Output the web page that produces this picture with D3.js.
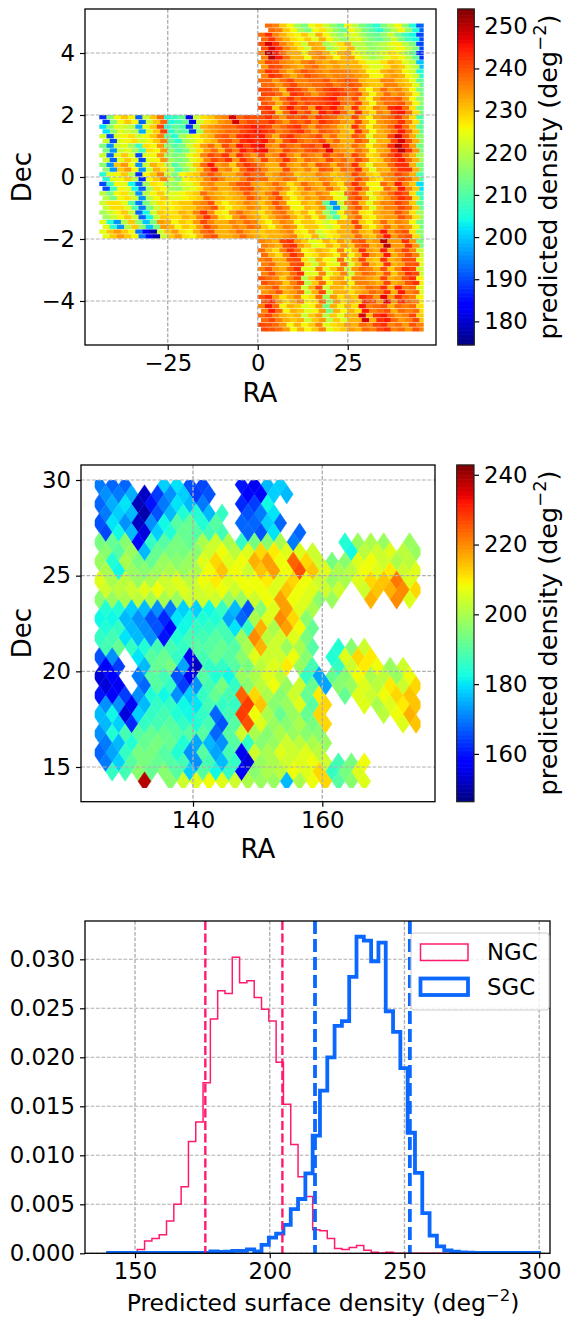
<!DOCTYPE html>
<html><head><meta charset="utf-8">
<script src="https://cdn.jsdelivr.net/npm/d3@7"></script>
<style>
html,body{margin:0;padding:0;background:#fff}
text{font-family:"DejaVu Sans",sans-serif;fill:#000}
</style></head><body><svg id="c" width="563" height="1318"></svg>
<script>
const _ = null;
// Panel 1: predicted density, SGC. RA columns 2 deg wide, Dec rows 0.3 deg, top to bottom.
const sgcUpper = [
[_,238,236,230,226,218,214,225,228,222,216,212,226,220,214,210,206,214,220,226,216,205,192],
[238,243,236,232,228,226,230,224,232,226,220,216,222,224,218,214,212,216,222,214,208,204,190],
[240,248,243,236,232,228,222,233,232,218,222,228,232,220,220,216,218,220,224,226,220,214,190],
[236,250,245,238,232,232,226,234,236,232,226,232,234,226,222,218,220,224,228,226,220,212,188],
[234,241,240,236,234,232,236,238,234,232,234,232,232,232,228,224,224,228,232,230,224,220,200],
[236,243,241,236,232,236,240,238,236,234,236,236,236,234,232,226,226,232,234,232,226,222,206],
[238,238,234,238,241,236,236,238,238,240,236,238,240,238,232,230,230,236,236,232,230,224,212],
[241,241,238,232,243,241,238,234,238,241,243,241,238,240,232,226,232,238,234,236,232,226,214],
[240,238,232,238,243,238,241,240,241,243,245,238,236,241,232,226,234,238,238,240,234,226,216],
[241,243,230,238,245,238,241,234,245,241,245,238,232,243,232,228,236,234,243,245,238,228,214]];
const sgcMiddle = [
[188,215,226,230,226,192,222,230,238,205,208,212,182,222,228,230,234,236,248,238,241,240,240,243,238,234,240,238,241,236,243,240,238,234,232,241,232,226,234,236,238,243,236,228,210],
[202,216,224,222,220,198,224,230,241,206,212,210,188,218,232,234,236,238,238,241,243,245,243,241,236,238,241,243,238,234,240,238,236,232,230,243,234,226,232,234,238,245,238,230,212],
[222,190,224,226,228,222,226,230,236,212,206,218,222,226,230,232,238,240,236,243,245,243,245,238,232,240,243,238,236,238,241,234,238,232,232,240,236,224,232,232,241,248,240,232,216],
[214,196,222,224,218,208,228,226,234,216,210,214,222,228,234,238,232,241,236,245,241,245,246,236,234,241,238,236,240,241,238,247,236,234,232,238,234,226,232,234,243,250,243,234,214],
[222,192,224,230,224,190,224,226,234,218,214,216,224,228,236,241,238,243,234,243,238,234,241,234,236,243,236,232,238,236,234,241,236,238,234,241,236,228,230,236,240,245,238,232,218],
[216,196,230,234,226,196,222,232,228,220,210,216,222,230,238,245,234,236,230,238,243,240,236,232,232,241,234,232,236,232,240,238,232,238,236,243,232,224,232,232,238,243,243,232,214],
[206,224,226,230,220,188,226,230,236,222,214,226,228,230,236,240,236,232,232,236,241,238,238,232,234,238,236,230,232,232,236,234,230,232,234,241,236,230,228,234,236,241,238,232,210],
[190,208,226,224,204,192,218,228,226,218,216,222,224,228,234,236,232,232,236,240,241,234,232,234,238,234,228,232,238,234,232,238,232,228,236,243,236,226,226,238,234,245,236,230,202],
[220,214,226,228,222,196,220,226,230,224,224,226,228,230,238,234,232,230,232,234,240,236,232,236,241,232,226,230,234,232,236,234,226,224,238,241,234,224,230,234,238,243,240,228,208],
[222,228,228,224,210,194,214,222,228,226,228,230,230,234,236,240,230,226,230,232,236,234,230,234,240,236,226,226,232,230,234,212,196,222,236,240,232,224,232,236,236,241,238,230,212],
[218,222,226,230,222,192,204,222,230,228,228,232,230,236,243,236,228,226,234,238,234,232,228,232,236,238,232,228,232,226,232,218,210,226,234,238,228,226,232,234,234,240,236,228,218],
[224,206,196,220,230,216,200,214,234,232,226,230,228,234,241,236,232,232,236,234,238,236,230,226,232,236,234,226,230,230,226,222,226,232,232,241,230,226,232,238,232,236,234,226,214],
[224,230,234,230,226,194,184,178,222,230,234,228,226,232,238,240,232,232,234,238,234,232,230,232,232,234,236,228,226,232,222,226,228,232,232,238,232,230,236,245,234,238,240,228,216]];
const sgcLower = [
[236,234,232,241,243,234,230,224,226,232,228,234,230,238,240,232,234,250,234,234,243,234,214],
[238,232,228,236,243,238,226,228,232,230,226,236,226,232,243,234,232,245,232,236,241,236,222],
[236,238,232,232,240,241,228,222,232,226,224,238,224,232,241,232,230,243,232,234,240,240,224],
[236,240,234,232,238,243,224,224,236,224,230,236,222,234,238,236,232,240,230,236,243,241,222],
[240,238,236,230,236,241,220,230,238,226,232,234,226,236,236,234,232,241,232,234,240,243,226],
[234,236,240,232,234,238,222,232,241,222,232,232,228,232,234,238,236,243,232,245,236,238,224],
[240,243,234,228,232,236,226,228,238,218,234,228,232,230,243,240,234,247,234,243,238,236,226],
[236,245,238,226,232,230,224,226,234,214,232,226,232,228,245,236,238,240,232,238,236,238,228],
[238,241,236,232,230,232,222,230,234,220,230,224,232,232,248,232,243,245,238,234,236,241,230],
[241,240,238,234,226,232,226,230,236,224,228,230,234,232,238,236,241,243,236,238,234,240,236]];
// Panel 2: predicted density, NGC. RA columns 2 deg wide from 125, Dec rows 0.5 deg from 30 down.
const ngcGrid = [
[170,168,168,_,_,178,180,166,165,_,_,160,156,176,178],
[172,170,175,152,164,172,178,164,166,_,_,158,158,178,176],
[168,175,180,151,160,170,180,176,170,_,_,162,164,182],
[170,178,176,150,166,176,184,184,176,186,_,166,170,180],
[166,180,172,152,172,182,190,192,184,190,_,168,168,178,168],
[165,182,176,154,178,184,192,190,188,188,_,168,166,180,_,168],
[194,192,196,158,186,190,194,192,200,204,200,186,194,196,200,170,_,_,_,184,198,200,198,_,198],
[196,190,198,176,192,194,194,196,204,208,202,206,212,210,206,206,204,_,_,182,202,204,206,202,198],
[198,184,200,194,192,198,196,198,206,212,206,208,216,218,208,224,212,204,194,196,206,208,204,200,202],
[200,182,198,196,198,200,198,200,208,214,208,204,214,218,208,226,214,206,200,202,208,206,210,204,206],
[206,200,202,198,200,204,206,202,208,210,206,208,208,210,206,212,208,204,198,200,206,212,214,222,206],
[204,202,204,206,208,204,206,204,206,208,204,208,208,206,214,208,206,204,204,_,204,214,216,220,212],
[196,198,200,202,200,200,198,204,204,204,198,198,204,208,218,208,206,196,198,_,_,216,_,220,206],
[184,184,178,176,172,170,178,178,182,186,176,166,196,206,218,206,200],
[182,182,176,172,166,162,180,182,184,184,174,168,200,206,220,212,196],
[184,186,176,172,166,158,182,186,186,188,180,186,216,200,218,208,192],
[186,188,180,176,172,160,184,188,188,190,188,198,220,202,204,206,194],
[188,192,186,184,188,188,186,190,190,192,190,200,216,204,198,200,190,_,184,196,204],
[166,172,_,180,190,192,186,156,188,192,190,196,206,204,204,208,196,_,184,206,212,210],
[158,164,_,176,192,194,174,152,186,186,190,194,202,206,210,198,188,_,186,204,210,208,198,204],
[154,158,_,170,190,188,166,156,190,184,182,198,200,206,202,_,186,174,192,196,208,200,202,198,208],
[154,156,_,168,190,186,164,172,188,194,186,196,202,208,198,204,192,174,196,198,206,202,210,204,212],
[160,158,164,172,184,182,172,178,186,192,188,224,212,200,196,204,192,210,_,192,206,204,208,212,214],
[172,172,156,176,186,186,182,180,188,186,186,228,214,196,198,206,190,212,_,_,206,200,206,210,214],
[176,182,154,178,186,188,184,182,186,168,188,228,208,200,192,198,192,212,_,_,_,_,202,208,216],
[176,178,162,186,188,190,186,184,188,166,190,226,206,198,196,200,194,212,_,_,_,_,_,206,214],
[172,184,188,190,192,192,190,190,190,168,190,204,200,196,200,198,196,196],
[170,176,184,192,194,192,184,174,176,172,190,186,196,198,204,202,200,198],
[168,174,186,194,194,190,184,172,190,174,188,156,204,200,206,204,206,202],
[170,178,190,194,192,190,188,172,188,176,186,154,198,200,204,206,208,204,188,194,208],
[_,186,188,196,192,196,190,178,190,182,186,158,196,200,202,208,206,212,186,194,206],
[_,_,_,238,_,196,204,206,208,206,204,200,198,198,176,200,208,212,190,196,206]];
// Panel 3: histograms, 59 bins from 140 to 300.
const histLo = 140, histHi = 300;
const ngcHist = [0,0,0,0,.0004,.00126,.0015,.0019,.0033,.005,.0068,.0114,.0134,.0174,.0239,.0268,.0265,.0302,.0276,.0278,.0261,.0249,.0237,.0195,.0152,.0111,.0078,.0058,.0024,.0023,.0015,.0005,.0004,.0006,.0008,.0003,.0001,.00003,.0001,0,0,0,0,0,0,0,0,0,0,0,0,0,0,0,0,0,0,0,0];
const sgcHist = [.00003,.00003,.00003,.00003,.00003,.00003,.00003,.00003,.00003,.00003,.00003,.00003,.00003,.00003,.0002,.00014,.00017,.00024,.00024,.0004,.0002,.00085,.0016,.002,.0029,.0045,.00554,.00816,.012,.0166,.02,.0232,.0237,.0282,.0323,.0319,.0298,.0317,.0247,.0226,.0189,.0123,.0082,.0041,.0018,.0007,.0003,.00017,.0001,.00007,.00005,.00005,.00003,.00003,.00003,.00003,.00003,.00003,.00003];
const ngcLimits = [176.1, 204.7];
const sgcLimits = [216.8, 252];
const p1XTicks = [-25,0,25], p1YTicks = [-4,-2,0,2,4], p1CbTicks = [180,190,200,210,220,230,240,250];
const p2XTicks = [140,160], p2YTicks = [15,20,25,30], p2CbTicks = [160,180,200,220,240];
const p3XTicks = [150,200,250,300], p3YTicks = [0,.005,.01,.015,.02,.025,.03];
const legendNames = ["NGC","SGC"];

const PINK="#ff1a70", BLUE="#0a68ff", GRID="#b0b0b0";
const jetR=d3.scaleLinear([0,.35,.66,.89,1],[0,0,1,1,.5]).clamp(true);
const jetG=d3.scaleLinear([0,.125,.375,.64,.91,1],[0,0,1,1,0,0]).clamp(true);
const jetB=d3.scaleLinear([0,.11,.34,.65,1],[.5,1,1,0,0]).clamp(true);
const jet=t=>d3.rgb(jetR(t)*255,jetG(t)*255,jetB(t)*255).formatRgb();

const svg=d3.select("#c");
const FS=22.8;
let clipN=0;
function frame(x,y,box,xT,yT,fmtY){
  const [l,t,r,b]=box;
  const g=svg.append("g");
  const id="clip"+(clipN++);
  svg.append("clipPath").attr("id",id).append("rect").attr("x",l).attr("y",t).attr("width",r-l).attr("height",b-t);
  return {g,id,l,t,r,b,x,y,xT,yT,fmtY};
}
function grid(f){
  const g=f.g.append("g").attr("fill","none").attr("stroke",GRID).attr("stroke-width",1.1).attr("stroke-dasharray","3.8,1.7");
  f.xT.forEach(v=>g.append("line").attr("x1",f.x(v)).attr("x2",f.x(v)).attr("y1",f.t).attr("y2",f.b).attr("stroke-width",1.4));
  f.yT.forEach(v=>g.append("line").attr("y1",f.y(v)).attr("y2",f.y(v)).attr("x1",f.l).attr("x2",f.r));
}
function axes(f){
  const ax=f.g.append("g").attr("transform",`translate(0,${f.b})`).call(d3.axisBottom(f.x).tickValues(f.xT).tickSize(5).tickPadding(5).tickFormat(d=>String(d).replace("-","−")));
  const ay=f.g.append("g").attr("transform",`translate(${f.l},0)`).call(d3.axisLeft(f.y).tickValues(f.yT).tickSize(5).tickPadding(5).tickFormat(f.fmtY||(d=>String(d).replace("-","−"))));
  [ax,ay].forEach(a=>{a.select(".domain").remove();a.selectAll("text").attr("font-size",FS).attr("font-family","DejaVu Sans");a.selectAll("line").attr("stroke","#000").attr("stroke-width",1.2)});
  f.g.append("rect").attr("x",f.l).attr("y",f.t).attr("width",f.r-f.l).attr("height",f.b-f.t).attr("fill","none").attr("stroke","#000").attr("stroke-width",1.3);
}
function label(txt,x,y,rot,size){
  return svg.append("text").attr("font-size",size).attr("text-anchor","middle").attr("transform",`translate(${x},${y}) rotate(${rot})`).text(txt);
}
function densityLabel(prefix,x,y,rot,size){
  const t=svg.append("text").attr("font-size",size).attr("text-anchor","middle").attr("transform",`translate(${x},${y}) rotate(${rot})`);
  t.append("tspan").text(prefix+" (deg");
  t.append("tspan").attr("font-size",size*.7).attr("dy",-size*.42).text("−2");
  t.append("tspan").attr("dy",size*.42).text(")");
}
function colorbar(box,dom,ticks){
  const [l,t,r,b]=box;
  const y=d3.scaleLinear(dom,[b,t]);
  const steps=d3.range(256);
  const g=svg.append("g");
  g.selectAll("rect").data(steps).join("rect")
    .attr("x",l).attr("width",r-l)
    .attr("y",i=>y(dom[0]+(i+1)/256*(dom[1]-dom[0]))-.3)
    .attr("height",(b-t)/256+.6)
    .attr("fill",i=>jet((i+.5)/256));
  const a=g.append("g").attr("transform",`translate(${r},0)`).call(d3.axisRight(y).tickValues(ticks).tickSize(5).tickPadding(5));
  a.select(".domain").remove();a.selectAll("text").attr("font-size",FS).attr("font-family","DejaVu Sans");a.selectAll("line").attr("stroke","#000").attr("stroke-width",1.2);
  g.append("rect").attr("x",l).attr("y",t).attr("width",r-l).attr("height",b-t).attr("fill","none").attr("stroke","#222").attr("stroke-width",1.2);
}

// ---------- Panel 1
{
  const box=[85,9,436,345];
  const x=d3.scaleLinear([-47.97,49.5],[box[0],box[2]]);
  const y=d3.scaleLinear([-5.42,5.42],[box[3],box[1]]);
  const f=frame(x,y,box,p1XTicks,p1YTicks);
  const dom=[174.4,254.1];
  const c=v=>jet((v-dom[0])/(dom[1]-dom[0]));
  const cells=[];
  const add=(rows,dec0,dDec,ra0)=>rows.forEach((row,j)=>row.forEach((v,i)=>{
    if(v==null)return;
    d3.range(2).forEach(s=>cells.push({ra:ra0+2*i+(s?0.9:0),dec:dec0-dDec*j-dDec/2*s,h:dDec/2,v}));
  }));
  add(sgcUpper,4.95,.295,0);
  add(sgcMiddle,2,4/13,-44);
  add(sgcLower,-2,.3,0);
  f.g.append("g").selectAll("rect").data(cells).join("rect")
    .attr("x",d=>x(d.ra)).attr("width",d=>Math.min(x(d.ra+2),x(46))-x(d.ra)+.3)
    .attr("y",d=>y(d.dec)).attr("height",d=>(y(d.dec-d.h)-y(d.dec))-.5)
    .attr("fill",d=>c(d.v));
  grid(f);axes(f);
  colorbar([457.7,9,474.3,345],dom,p1CbTicks);
  label("Dec",31,177,-90,26);
  label("RA",260,402,0,26);
  densityLabel("predicted density",557,177,-90,25.5);
}
// ---------- Panel 2
{
  const box=[81,465,435,801.7];
  const y=d3.scaleLinear([15,30],[767,480]);
  const xd=d3.scaleLinear([(81-193)/6.465+140,(435-193)/6.465+140],[81,435]);
  const f=frame(xd,y,box,p2XTicks,p2YTicks);
  const dom=[146.3,242.8];
  const c=v=>jet((v-dom[0])/(dom[1]-dom[0]));
  svg.append("clipPath").attr("id","ngcClip").append("rect")
    .attr("x",xd(124.8)).attr("width",xd(175.2)-xd(124.8)).attr("y",y(30)).attr("height",y(13.9)-y(30));
  const cells=[];
  ngcGrid.forEach((row,j)=>row.forEach((v,i)=>{
    if(v==null)return;
    cells.push({ra:126+2*i+(j%2?.5:-.5),dec:29.75-.5*j,v});
  }));
  const dRa=1,dDec=.5;
  f.g.append("g").attr("clip-path","url(#ngcClip)").selectAll("path").data(cells).join("path")
    .attr("d",d=>d3.line()([[xd(d.ra-dRa),y(d.dec)],[xd(d.ra),y(d.dec+dDec)],[xd(d.ra+dRa),y(d.dec)],[xd(d.ra),y(d.dec-dDec)]])+"Z")
    .attr("fill",d=>c(d.v)).attr("stroke",d=>c(d.v)).attr("stroke-width",.4);
  grid(f);axes(f);
  colorbar([456.7,465,474,801.7],dom,p2CbTicks);
  label("Dec",31,633,-90,26);
  label("RA",258,858,0,26);
  densityLabel("predicted density",557,633,-90,25.5);
}
// ---------- Panel 3
{
  const box=[85,921,550,1253.3];
  const x=d3.scaleLinear([150,300],[135,539.2]);
  const xd=d3.scaleLinear([x.invert(85),x.invert(550)],[85,550]);
  const y=d3.scaleLinear([0,.03],[1253.3,959.3]);
  const yd=d3.scaleLinear([0,y.invert(921)],[1253.3,921]);
  const f=frame(xd,yd,box,p3XTicks,p3YTicks,d=>d3.format(".3f")(d));
  grid(f);
  const edge=i=>histLo+i*(histHi-histLo)/59;
  const pts=h=>{const p=[[edge(0),0]];h.forEach((v,i)=>{if(i<59)p.push([edge(i),v])});p.push([edge(59),h[58]||0]);p.push([edge(59),0]);return p};
  const line=d3.line().x(d=>xd(d[0])).y(d=>yd(d[1])).curve(d3.curveStepAfter);
  const lg=f.g.append("g").attr("clip-path",`url(#${f.id})`);
  lg.append("path").attr("d",line(pts(ngcHist))).attr("fill","none").attr("stroke",PINK).attr("stroke-width",1.5);
  lg.append("path").attr("d",line(pts(sgcHist))).attr("fill","none").attr("stroke",BLUE).attr("stroke-width",3.8);
  const vl=(vals,col,w,dash)=>vals.forEach(v=>lg.append("line").attr("x1",xd(v)).attr("x2",xd(v)).attr("y1",921).attr("y2",1253.3).attr("stroke",col).attr("stroke-width",w).attr("stroke-dasharray",dash));
  vl(ngcLimits,PINK,2.4,"9,3.5");
  vl(sgcLimits,BLUE,3.8,"13,5");
  axes(f);
  const lgd=svg.append("g");
  lgd.append("rect").attr("x",411).attr("y",933).attr("width",138).attr("height",77).attr("rx",3).attr("fill","#fff").attr("fill-opacity",.8).attr("stroke","#ccc").attr("stroke-width",1);
  legendNames.forEach((nm,i)=>{
    const yy=944+i*34.5;
    lgd.append("rect").attr("x",420.5).attr("y",yy).attr("width",47.5).attr("height",16.5).attr("fill","none").attr("stroke",i?BLUE:PINK).attr("stroke-width",i?3.8:1.5);
    lgd.append("text").attr("x",487).attr("y",yy+16).attr("font-size",22.8).text(nm);
  });
  const t=svg.append("text").attr("font-size",23.5).attr("text-anchor","middle").attr("transform","translate(323,1311)");
  t.append("tspan").text("Predicted surface density (deg");
  t.append("tspan").attr("font-size",16.5).attr("dy",-10).text("−2");
  t.append("tspan").attr("dy",10).text(")");
}
</script></body></html>
